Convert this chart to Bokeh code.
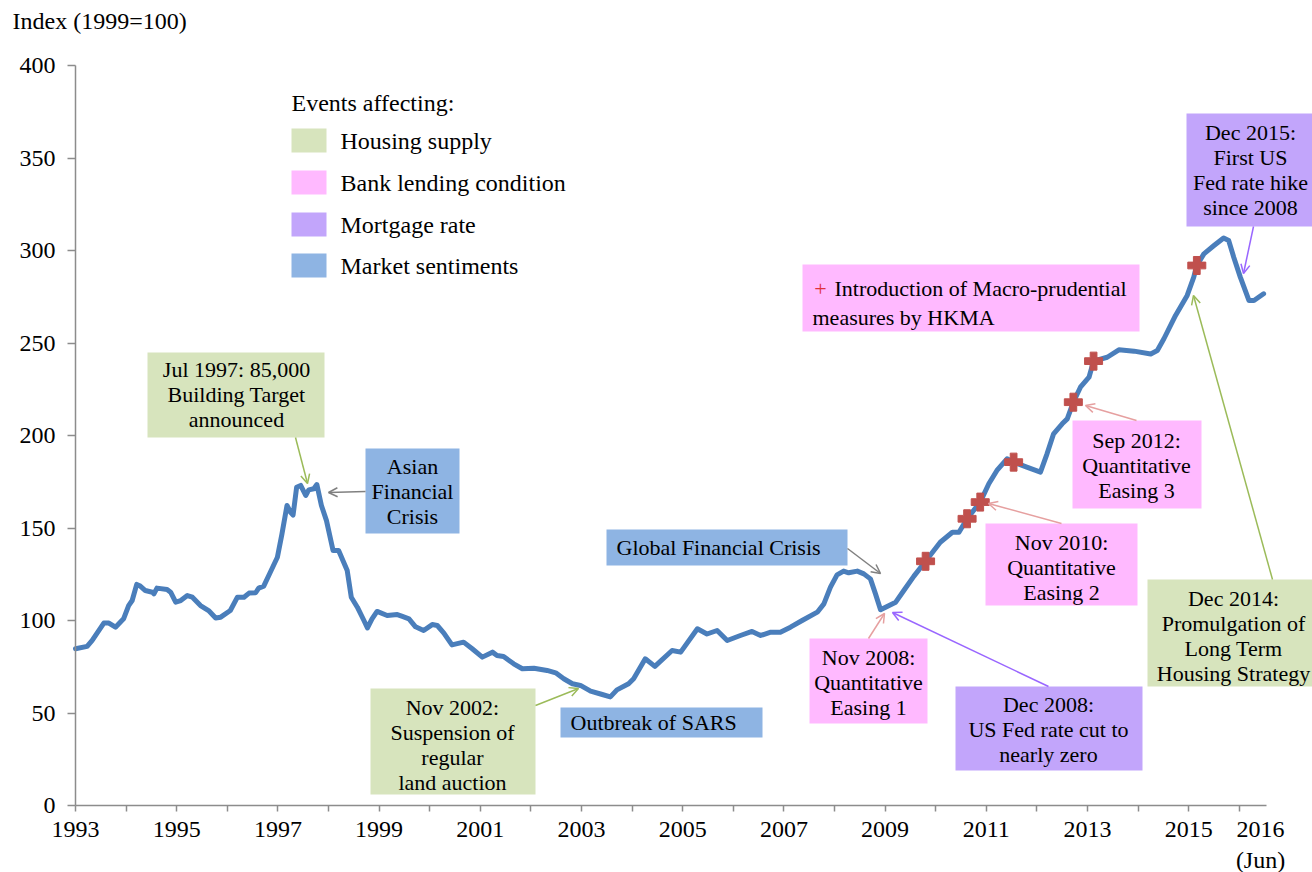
from bokeh.plotting import figure
from bokeh.models import Range1d, FixedTicker, BoxAnnotation, Label, Arrow, OpenHead
from bokeh.embed import file_html
from bokeh.resources import INLINE

# ---------------- data ----------------
dates = [1993.0, 1993.23, 1993.33, 1993.56, 1993.66, 1993.79, 1993.95, 1994.05, 1994.12, 1994.21,
         1994.28, 1994.38, 1994.52, 1994.55, 1994.61, 1994.81, 1994.88, 1994.98, 1995.08, 1995.21,
         1995.31, 1995.47, 1995.63, 1995.77, 1995.87, 1996.06, 1996.2, 1996.33, 1996.43, 1996.56,
         1996.62, 1996.72, 1996.85, 1996.99, 1997.08, 1997.18, 1997.25, 1997.30, 1997.37, 1997.45,
         1997.55, 1997.61, 1997.71, 1997.77, 1997.86, 1997.96, 1998.09, 1998.2, 1998.37, 1998.45,
         1998.57, 1998.7, 1998.77, 1998.86, 1998.96, 1999.16, 1999.36, 1999.46, 1999.59, 1999.72,
         1999.88, 2000.05, 2000.15, 2000.28, 2000.44, 2000.67, 2000.84, 2001.04, 2001.24, 2001.33,
         2001.46, 2001.66, 2001.83, 2002.06, 2002.32, 2002.49, 2002.65, 2002.82, 2002.98, 2003.18,
         2003.41, 2003.57, 2003.7, 2003.93, 2004.03, 2004.26, 2004.45, 2004.79, 2004.96, 2005.29,
         2005.48, 2005.68, 2005.88, 2006.14, 2006.37, 2006.54, 2006.74, 2006.93, 2007.13, 2007.36,
         2007.66, 2007.79, 2007.92, 2008.05, 2008.18, 2008.28, 2008.45, 2008.58, 2008.71, 2008.81,
         2008.91, 2009.04, 2009.21, 2009.37, 2009.57, 2009.8, 2010.09, 2010.33, 2010.46, 2010.62,
         2010.88, 2011.05, 2011.21, 2011.41, 2011.54, 2011.8, 2012.07, 2012.2, 2012.33, 2012.5,
         2012.6, 2012.72, 2012.86, 2013.03, 2013.12, 2013.39, 2013.62, 2013.92, 2014.25, 2014.38,
         2014.51, 2014.74, 2014.97, 2015.1, 2015.16, 2015.3, 2015.5, 2015.69, 2015.79, 2015.89,
         2016.02, 2016.19, 2016.29, 2016.48]
index_values = [84.7, 86, 89.2, 98.6, 98.6, 96.4, 100.9, 108, 110.8, 119.5,
                118.6, 116.2, 115.3, 114.4, 117.5, 116.8, 115.3, 109.9, 110.8, 113.5,
                112.6, 108.1, 105.4, 101.4, 101.8, 105.4, 112.6, 112.6, 114.8, 115,
                117.5, 118.6, 126.1, 134.2, 146.8, 162.2, 158.5, 157, 172, 173,
                167.6, 170.6, 171.2, 173.5, 162.2, 154, 137.8, 137.8, 127, 112.6,
                107.2, 100, 96, 100.9, 104.9, 102.7, 103.2, 102.2, 100.9, 96.6,
                94.6, 97.8, 97.3, 93.2, 86.8, 88.3, 84.7, 80.2, 82.9, 81.1,
                80.5, 76.6, 73.9, 74.2, 73, 71.7, 68.5, 65.8, 64.9, 61.8,
                60, 58.7, 62.5, 65.8, 68.5, 79.3, 75.2, 83.8, 82.9, 95.5,
                92.7, 94.6, 89.2, 91.9, 94.1, 91.9, 93.7, 93.7, 96.4, 100,
                104.5, 109, 118, 124.7, 126.7, 125.8, 126.7, 125.2, 122.5, 114.4,
                105.8, 107.6, 109.9, 116.2, 124, 132, 142.3, 147.7, 147.7, 155,
                164, 173.9, 181.1, 187.4, 185.6, 182.9, 180.2, 190.1, 200.9, 206.3,
                209, 218, 226.1, 231.5, 240.2, 242.3, 246.3, 245.6, 244.1, 245.9,
                252.3, 264.9, 275.7, 285.6, 291.9, 298.2, 302.7, 306.8, 305.4, 296.4,
                285.6, 273, 273, 276.6]

# Introduction of macro-prudential measures by HKMA
macro_dates = [2009.8, 2010.62, 2010.88, 2011.54, 2012.72, 2013.12, 2015.16]
macro_values = [132, 155, 164, 185.6, 218, 240.2, 291.9]

x_tick_years = [1993, 1995, 1997, 1999, 2001, 2003, 2005, 2007, 2009, 2011, 2013, 2015]
x_tick_labels = [str(y) for y in x_tick_years]
last_tick_pos = 2016.42
last_tick_label = "2016\n(Jun)"
y_ticks = [0, 50, 100, 150, 200, 250, 300, 350, 400]

legend_title = "Events affecting:"
legend_labels = ["Housing supply", "Bank lending condition", "Mortgage rate", "Market sentiments"]

# ---------------- styles ----------------
GREEN = "#D7E4BD"
PINK = "#FFB9FF"
PURPLE = "#C2A5FB"
BLUE = "#8EB4E3"
LINE = "#4A7EBB"
MARK = "#C0504D"
FONT = "Liberation Serif"
legend_colors = [GREEN, PINK, PURPLE, BLUE]

# reference page pixel -> data coordinates (layout helper for annotations)
def dx(px):
    return 1993 + (px - 75) / 50.6

def dy(py):
    return (805 - py) / 1.85

AXIS_END = dx(1266)   # Jun 2016

# frame spans the whole canvas; axes are pinned at x=1993 and y=0
p = figure(frame_width=1312, frame_height=872,
           x_range=Range1d(dx(0), dx(1312)), y_range=Range1d(dy(872), dy(0)),
           output_backend="svg", toolbar_location=None,
           min_border_left=0, min_border_right=0, min_border_top=0, min_border_bottom=0)
p.grid.visible = False
p.outline_line_color = None
p.background_fill_color = "white"
p.border_fill_color = "white"

xa = p.xaxis[0]
ya = p.yaxis[0]
xa.fixed_location = 0
ya.fixed_location = 1993
xa.bounds = (1993, AXIS_END)
ya.bounds = (0, 400)
xa.ticker = FixedTicker(ticks=x_tick_years + [last_tick_pos], minor_ticks=list(range(1993, 2017)))
overrides = {y: l for y, l in zip(x_tick_years, x_tick_labels)}
overrides[last_tick_pos] = last_tick_label
xa.major_label_overrides = overrides
xa.major_tick_out = 0
xa.major_tick_in = 0
xa.minor_tick_out = 6
xa.minor_tick_in = 0
xa.major_label_standoff = 4
ya.ticker = FixedTicker(ticks=y_ticks, minor_ticks=[])
ya.major_tick_out = 8
ya.major_tick_in = 0
ya.minor_tick_out = 0
ya.minor_tick_in = 0
ya.major_label_standoff = 12
for ax in (xa, ya):
    ax.axis_line_color = "#8C8C8C"
    ax.axis_line_width = 1.5
    ax.major_tick_line_color = "#8C8C8C"
    ax.major_tick_line_width = 1.5
    ax.minor_tick_line_color = "#8C8C8C"
    ax.minor_tick_line_width = 1.5
    ax.major_label_text_font = FONT
    ax.major_label_text_font_size = "24px"
    ax.major_label_text_color = "black"

# ---------------- annotation boxes ----------------
def box(l, r, t, b, color):
    p.add_layout(BoxAnnotation(left=dx(l), right=dx(r), top=dy(t), bottom=dy(b),
                               fill_color=color, fill_alpha=1, line_color=None, level="underlay"))

def text(s, x, y, align="center", size="22px", color="black"):
    p.add_layout(Label(x=dx(x), y=dy(y), text=s, text_font=FONT, text_font_size=size,
                       text_align=align, text_baseline="middle", text_color=color,
                       text_line_height=1.0))

def arrow(x0, y0, x1, y1, color):
    p.add_layout(Arrow(x_start=dx(x0), y_start=dy(y0), x_end=dx(x1), y_end=dy(y1),
                       line_color=color, line_width=1.5,
                       end=OpenHead(size=9, line_color=color, line_width=1.5)))

# title
text("Index (1999=100)", 12, 20, align="left", size="24px")

# boxes
box(147, 324, 352, 437, GREEN)
box(365, 459, 448, 533, BLUE)
box(606, 847, 529, 565, BLUE)
box(560, 762, 707, 737, BLUE)
box(370, 535, 688, 794, GREEN)
box(809, 927, 638, 723, PINK)
box(955, 1142, 686, 770, PURPLE)
box(985, 1137, 523, 605, PINK)
box(1072, 1201, 420, 508, PINK)
box(1147, 1312, 579, 686, GREEN)
box(1186, 1312, 113, 226, PURPLE)
box(802, 1139, 264, 331, PINK)

# legend
text(legend_title, 291, 102, align="left", size="24px")
for i, (lab, col) in enumerate(zip(legend_labels, legend_colors)):
    cy = [140, 182, 224, 265][i]
    box(291, 326, cy - 12, cy + 12, col)
    text(lab, 340, cy, align="left", size="24px")

# series
p.line(dates, index_values, line_color=LINE, line_width=5, line_join="round", line_cap="round")
p.scatter(macro_dates, macro_values, marker="plus", size=18, fill_color=MARK, line_color=MARK)

# box texts
text("Jul 1997: 85,000\nBuilding Target\nannounced", 236, 394)
text("Asian\nFinancial\nCrisis", 412, 491)
text("Global Financial Crisis", 616, 547, align="left")
text("Outbreak of SARS", 570, 722, align="left")
text("Nov 2002:\nSuspension of\nregular\nland auction", 452, 744)
text("Nov 2008:\nQuantitative\nEasing 1", 868, 682)
text("Dec 2008:\nUS Fed rate cut to\nnearly zero", 1048, 729)
text("Nov 2010:\nQuantitative\nEasing 2", 1061, 567)
text("Sep 2012:\nQuantitative\nEasing 3", 1136, 465)
text("Dec 2014:\nPromulgation of\nLong Term\nHousing Strategy", 1233, 635)
text("Dec 2015:\nFirst US\nFed rate hike\nsince 2008", 1250, 169)
text("+", 820, 288, color="#E0303A")
text("Introduction of Macro-prudential", 834, 288, align="left")
text("measures by HKMA", 812, 317, align="left")

# arrows
arrow(295, 437, 307, 483, "#9BBB59")
arrow(365, 491, 328, 492, "#808080")
arrow(847, 548, 880, 573, "#808080")
arrow(535, 705, 578, 688, "#9BBB59")
arrow(868, 638, 884, 613, "#E6A0A0")
arrow(1048, 686, 892, 612, "#9966FF")
arrow(1061, 523, 988, 503, "#E6A0A0")
arrow(1136, 420, 1085, 405, "#E6A0A0")
arrow(1272, 579, 1193, 295, "#9BBB59")
arrow(1253, 226, 1243, 273, "#9966FF")

open("out.html", "w").write(file_html(p, INLINE))
